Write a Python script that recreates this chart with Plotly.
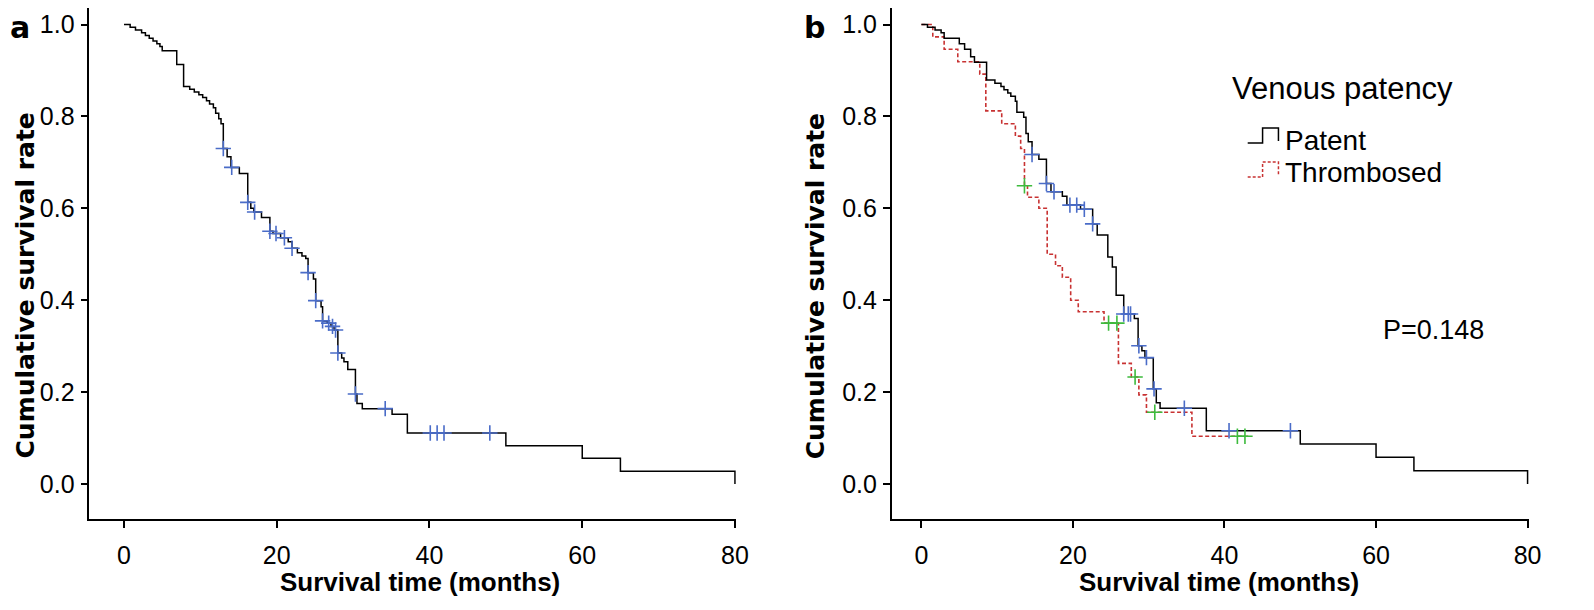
import plotly.graph_objects as go

# The page body has an 8 px margin, so the figure is sized to fit the
# 1594x610 window exactly and screen positions are converted accordingly.
WIN_W, WIN_H, BODY = 1594, 610, 8
W, H = WIN_W - 2 * BODY, WIN_H - 2 * BODY


def px(x):
    return (x - BODY) / W


def py(y):
    return 1 - (y - BODY) / H


# ---------------- Panel a: all patients ----------------
A_T = [0, 0.8, 1.5, 2.3, 2.8, 3.3, 3.8, 4.3, 4.7, 5.0, 6.9, 7.8, 8.6, 9.2, 9.8, 10.3,
       10.8, 11.2, 11.7, 12.0, 12.4, 12.7, 13.0, 13.5, 14.0, 15.1, 16.2, 16.6, 17.0,
       18.0, 19.1, 19.5, 20.5, 21.5, 22.0, 22.7, 23.3, 23.8, 24.1, 24.8, 25.1, 25.8,
       26.0, 26.6, 27.1, 27.5, 28.0, 28.5, 28.8, 29.3, 30.3, 30.5, 31.2, 35.1, 37.1,
       50.0, 60.0, 65.0, 80.0]
A_S = [1.0, 0.994, 0.988, 0.982, 0.976, 0.970, 0.964, 0.958, 0.952, 0.943, 0.913,
       0.865, 0.859, 0.853, 0.847, 0.841, 0.834, 0.827, 0.819, 0.807, 0.795, 0.784,
       0.730, 0.712, 0.689, 0.676, 0.613, 0.600, 0.592, 0.580, 0.550, 0.545, 0.536,
       0.527, 0.513, 0.503, 0.496, 0.491, 0.460, 0.446, 0.399, 0.386, 0.355, 0.350,
       0.343, 0.335, 0.285, 0.274, 0.266, 0.249, 0.196, 0.175, 0.164, 0.152, 0.111,
       0.083, 0.056, 0.028, 0.0]
A_CT = [13.0, 14.1, 16.2, 17.1, 19.1, 19.9, 21.0, 22.0, 24.1, 25.1, 26.0, 26.8, 27.3,
        27.7, 28.0, 30.3, 34.2, 40.1, 41.0, 41.9, 47.9]
A_CS = [0.730, 0.689, 0.613, 0.592, 0.550, 0.545, 0.536, 0.513, 0.460, 0.399, 0.355,
        0.350, 0.343, 0.335, 0.285, 0.196, 0.164, 0.111, 0.111, 0.111, 0.111]

# ---------------- Panel b: by venous patency ----------------
P_T = [0, 0.8, 1.8, 2.6, 3.0, 5.0, 5.7, 6.5, 7.0, 8.6, 9.7, 10.5, 10.9, 11.4, 11.8,
       12.4, 12.6, 13.5, 13.8, 14.1, 14.6, 15.5, 16.5, 17.1, 18.6, 19.2, 21.0, 22.6,
       23.2, 24.6, 25.2, 25.7, 26.7, 28.1, 28.6, 29.1, 29.5, 30.6, 31.0, 31.5, 37.6,
       50.0, 60.0, 65.0, 80.0]
P_S = [1.0, 0.994, 0.988, 0.982, 0.970, 0.958, 0.946, 0.930, 0.918, 0.879, 0.872,
       0.865, 0.858, 0.851, 0.844, 0.833, 0.809, 0.798, 0.763, 0.745, 0.717, 0.707,
       0.654, 0.636, 0.626, 0.607, 0.598, 0.566, 0.542, 0.494, 0.472, 0.411, 0.370,
       0.360, 0.301, 0.290, 0.275, 0.207, 0.177, 0.165, 0.116, 0.087, 0.058, 0.029, 0.0]
P_CT = [14.6, 16.5, 17.5, 19.6, 20.5, 21.5, 22.6, 26.7, 27.3, 27.6, 28.7, 29.7, 30.7,
        34.7, 40.6, 48.7]
P_CS = [0.717, 0.654, 0.636, 0.607, 0.607, 0.598, 0.566, 0.370, 0.370, 0.370, 0.301,
        0.275, 0.207, 0.165, 0.116, 0.116]

T_T = [0, 1.5, 3.0, 4.8, 7.7, 8.5, 10.6, 12.4, 13.1, 13.6, 14.0, 15.5, 16.6, 17.7,
       18.6, 19.7, 20.7, 24.1, 26.0, 27.7, 28.7, 29.7, 35.7, 43.2]
T_S = [1.0, 0.973, 0.946, 0.919, 0.892, 0.812, 0.784, 0.757, 0.730, 0.649, 0.624,
       0.600, 0.500, 0.475, 0.450, 0.400, 0.375, 0.350, 0.2625, 0.233, 0.194, 0.156,
       0.104, 0.104]
T_CT = [13.6, 24.7, 25.8, 28.2, 30.8, 41.7, 42.7]
T_CS = [0.649, 0.350, 0.350, 0.233, 0.156, 0.104, 0.104]

X_TICKS = [0, 20, 40, 60, 80]
Y_TICKS = [0.0, 0.2, 0.4, 0.6, 0.8, 1.0]
Y_TICK_TEXT = ["0.0", "0.2", "0.4", "0.6", "0.8", "1.0"]

BLUE = "#4a6cc8"
GREEN = "#3dbb3d"
RED = "#c83232"
FONT = "Liberation Sans, Arial, sans-serif"
WIDE = "DejaVu Sans, Verdana, sans-serif"

fig = go.Figure()


def censor(xs, ys, color, xa, ya):
    return go.Scatter(x=xs, y=ys, mode="markers", xaxis=xa, yaxis=ya, showlegend=False,
                      hoverinfo="skip",
                      marker=dict(symbol="cross-thin", size=11, color=color,
                                  line=dict(color=color, width=1.6)))


fig.add_trace(go.Scatter(x=A_T, y=A_S, mode="lines", xaxis="x", yaxis="y", showlegend=False,
                         line=dict(color="black", width=1.5, shape="hv")))
fig.add_trace(censor(A_CT, A_CS, BLUE, "x", "y"))

fig.add_trace(go.Scatter(x=T_T, y=T_S, mode="lines", xaxis="x2", yaxis="y2", showlegend=False,
                         line=dict(color=RED, width=1.6, shape="hv", dash="4px,2.5px")))
fig.add_trace(go.Scatter(x=P_T, y=P_S, mode="lines", xaxis="x2", yaxis="y2", showlegend=False,
                         line=dict(color="black", width=1.5, shape="hv")))
fig.add_trace(censor(T_CT, T_CS, GREEN, "x2", "y2"))
fig.add_trace(censor(P_CT, P_CS, BLUE, "x2", "y2"))

axis_common = dict(showline=True, linecolor="black", linewidth=1.5, ticks="outside",
                   ticklen=7, tickwidth=1.5, tickcolor="black", showgrid=False,
                   zeroline=False, tickfont=dict(family=FONT, size=25, color="black"))

# screen-pixel geometry
top_px, bot_px = 8, 519
y0_px, y1_px = 484, 24.5
ky = (y0_px - y1_px)
yrange = [(y0_px - bot_px) / ky, (y0_px - top_px) / ky]

a_left, a_right, a_zero, a_k = 90, 742, 125, 7.7
b_left, b_right, b_zero, b_k = 899, 1542, 929, 7.64

fig.update_layout(
    width=W, height=H, margin=dict(l=0, r=0, t=0, b=0),
    paper_bgcolor="white", plot_bgcolor="white",
    xaxis=dict(domain=[px(a_left), px(a_right)], anchor="y",
               range=[(a_left - a_zero) / a_k, (a_right - a_zero) / a_k],
               tickvals=X_TICKS, ticklabelstandoff=6, **axis_common),
    yaxis=dict(domain=[py(bot_px), py(top_px)], anchor="x", range=yrange,
               tickvals=Y_TICKS, ticktext=Y_TICK_TEXT, ticklabelstandoff=1, **axis_common),
    xaxis2=dict(domain=[px(b_left), px(b_right)], anchor="y2",
                range=[(b_left - b_zero) / b_k, (b_right - b_zero) / b_k],
                tickvals=X_TICKS, ticklabelstandoff=6, **axis_common),
    yaxis2=dict(domain=[py(bot_px), py(top_px)], anchor="x2", range=yrange,
                tickvals=Y_TICKS, ticktext=Y_TICK_TEXT, ticklabelstandoff=1, **axis_common),
)

ann = []


def text(x, y, s, size, bold=False, angle=0, xanchor="center", yanchor="middle",
         family=FONT):
    ann.append(dict(x=px(x), y=py(y), xref="paper", yref="paper", showarrow=False,
                    text=("<b>%s</b>" % s) if bold else s, textangle=angle,
                    xanchor=xanchor, yanchor=yanchor,
                    font=dict(family=family, size=size, color="black")))


text(8, 8, "a", 30, bold=True, xanchor="left", yanchor="top", family=WIDE)
text(809, 8, "b", 30, bold=True, xanchor="left", yanchor="top", family=WIDE)
text(8, 286, "Cumulative survival rate", 25, bold=True, angle=-90, xanchor="left",
     family=WIDE)
text(822, 286, "Cumulative survival rate", 25, bold=True, angle=-90, family=WIDE)
text(423, 582, "Survival time (months)", 26, bold=True)
text(1229, 582, "Survival time (months)", 26, bold=True)
text(1240, 88, "Venous patency", 31, xanchor="left")
text(1294, 140, "Patent", 28, xanchor="left")
text(1294, 172, "Thrombosed", 28, xanchor="left")
text(1392, 330, "P=0.148", 27, xanchor="left")
fig.update_layout(annotations=ann)

# legend glyphs (step-shaped line samples)
fig.add_shape(type="path", xref="paper", yref="paper",
              path="M %f,%f H %f V %f H %f V %f" % (px(1258), py(143), px(1273), py(128),
                                                   px(1289), py(141)),
              line=dict(color="black", width=1.5))
fig.add_shape(type="path", xref="paper", yref="paper",
              path="M %f,%f H %f V %f H %f V %f" % (px(1258), py(177), px(1273), py(162),
                                                   px(1289), py(175)),
              line=dict(color=RED, width=1.5, dash="3px,2px"))

fig.write_html("out.html")
